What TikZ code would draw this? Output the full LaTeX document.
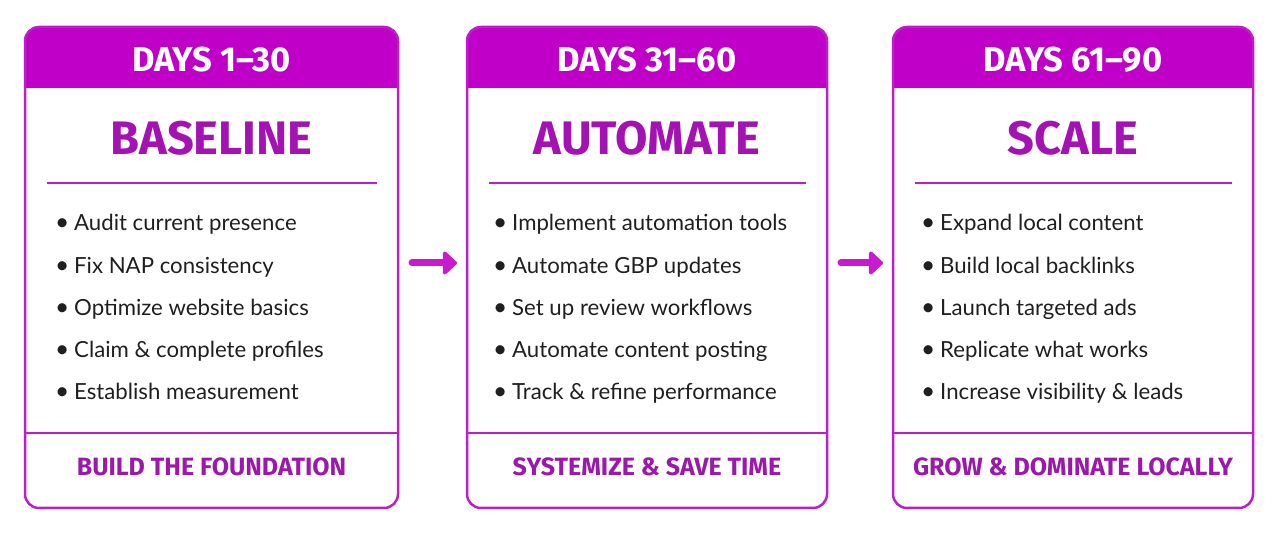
\documentclass[tikz,border=0pt]{standalone}
\usepackage{fontspec}
\setmainfont{Lato}
\newfontfamily\headfont{Fira Sans}
\usetikzlibrary{positioning, arrows.meta}

\definecolor{headmagenta}{HTML}{C000C8}
\definecolor{phasepurple}{HTML}{A412B4}
\definecolor{mottopurple}{HTML}{9C18AA}
\definecolor{framepurple}{HTML}{BC1ECA}
\definecolor{flowpurple}{HTML}{C81ACE}

\newcommand{\itemdot}{\makebox[19pt][l]{\scalebox{1.1}{\textbullet}}}

\begin{document}
\begin{tikzpicture}[
      x=1pt, y=1pt,
      card/.style={rectangle, minimum height=481pt, inner sep=0pt, outer sep=0pt},
      frame/.style={draw=framepurple, line width=2.5pt, rounded corners=14pt},
      rule/.style={draw=framepurple, line width=2pt},
      daylabel/.style={font=\headfont\bfseries\fontsize{34.5}{34.5}\selectfont, text=white, anchor=base},
      phase/.style={font=\headfont\bfseries\fontsize{47}{47}\selectfont, text=phasepurple, anchor=base},
      item/.style={font=\fontsize{22.2}{22.2}\selectfont, text=black!88, anchor=base west, inner sep=0pt},
      motto/.style={font=\headfont\bfseries\fontsize{25}{25}\selectfont, text=mottopurple, anchor=base},
      flow/.style={draw=flowpurple, line width=7pt, line cap=round, -{Triangle[round, length=15pt, width=27pt]}}
    ]
    \useasboundingbox (0,0) rectangle (1280,535);

    % the three cards
    \node[card, minimum width=373pt] (card1) at (211.5,267.5) {};
    \node[card, minimum width=360pt] (card2) at (647,267.5) {};
    \node[card, minimum width=360pt] (card3) at (1073,267.5) {};

    % headers, clipped to the rounded frame
    \foreach \c in {card1, card2, card3} {
        \begin{scope}
            \clip[rounded corners=14pt] (\c.south west) rectangle (\c.north east);
            \fill[headmagenta] ([yshift=-61pt]\c.north west) rectangle (\c.north east);
        \end{scope}
        \draw[frame] (\c.south west) rectangle (\c.north east);
        \draw[rule, line width=2.5pt] ([yshift=75pt]\c.south west) -- ([yshift=75pt]\c.south east);
        \draw[rule] ([xshift=22pt, yshift=-156pt]\c.north west) -- ([xshift=-21pt, yshift=-156pt]\c.north east);
    }

    % card 1
    \node[daylabel] (days1) at ([yshift=-45pt]card1.north) {DAYS 1–30};
    \node[phase] (phase1) at ([yshift=-128pt]card1.north) {BASELINE};
    \foreach [count=\i] \txt in {Audit current presence, Fix NAP consistency,
        Optimize website basics, Claim \& complete profiles, Establish measurement}
        \node[item] (item1-\i) at ([xshift=30pt, yshift={(-204-42.25*(\i-1))*1pt}]card1.north west)
            {\itemdot\txt};
    \node[motto] (motto1) at ([yshift=32pt]card1.south) {BUILD THE FOUNDATION};

    % card 2
    \node[daylabel] (days2) at ([yshift=-45pt]card2.north) {DAYS 31–60};
    \node[phase] (phase2) at ([yshift=-128pt]card2.north) {AUTOMATE};
    \foreach [count=\i] \txt in {Implement automation tools, Automate GBP updates,
        Set up review workflows, Automate content posting, Track \& refine performance}
        \node[item] (item2-\i) at ([xshift=26pt, yshift={(-204-42.25*(\i-1))*1pt}]card2.north west)
            {\itemdot\txt};
    \node[motto] (motto2) at ([yshift=32pt]card2.south) {SYSTEMIZE \& SAVE TIME};

    % card 3
    \node[daylabel] (days3) at ([yshift=-45pt]card3.north) {DAYS 61–90};
    \node[phase] (phase3) at ([yshift=-128pt]card3.north) {SCALE};
    \foreach [count=\i] \txt in {Expand local content, Build local backlinks,
        Launch targeted ads, Replicate what works, Increase visibility \& leads}
        \node[item] (item3-\i) at ([xshift=28pt, yshift={(-204-42.25*(\i-1))*1pt}]card3.north west)
            {\itemdot\txt};
    \node[motto] (motto3) at ([yshift=32pt]card3.south) {GROW \& DOMINATE LOCALLY};

    % arrows between the cards
    \draw[flow] ([xshift=14pt, yshift=4.5pt]card1.east) -- ([xshift=-10pt, yshift=4.5pt]card2.west);
    \draw[flow] ([xshift=14pt, yshift=4.5pt]card2.east) -- ([xshift=-10pt, yshift=4.5pt]card3.west);
\end{tikzpicture}
\end{document}
